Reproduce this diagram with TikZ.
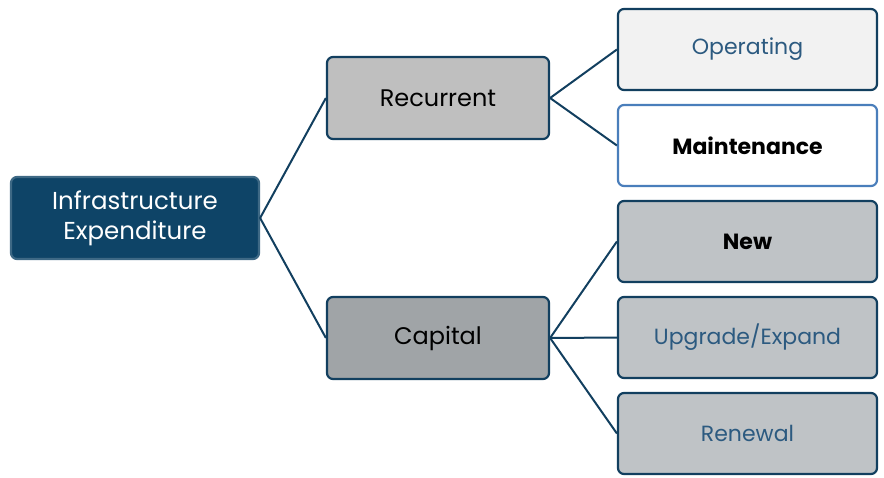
\documentclass[tikz,border=0pt]{standalone}
\usepackage{fontspec}
\setmainfont{Poppins}
\usepackage{xcolor}
\usepackage{tikz}
\usetikzlibrary{calc}

\definecolor{navy}{HTML}{0E4467}
\definecolor{edge}{HTML}{123F5F}
\definecolor{lightedge}{HTML}{4A7EBB}
\definecolor{bluetext}{HTML}{2C5A80}

\begin{document}
\begin{tikzpicture}[x=1pt, y=-1pt,
      box/.style={draw=edge, line width=2.2pt, rounded corners=6pt,
        minimum height=82pt, align=center, font=\fontsize{22}{27}\selectfont},
      root/.style={box, draw=navy!80, fill=navy, text=white,
        minimum width=248pt, font=\fontsize{24.5}{30}\selectfont},
      mid/.style={box, minimum width=222pt, font=\fontsize{24}{29}\selectfont},
      leaf/.style={box, minimum width=259pt, minimum height=81pt},
      link/.style={draw=edge, line width=2pt}]
      \useasboundingbox (0, 0) rectangle (884, 477);
      \node[root] (infra) at (135, 218) {Infrastructure\\Expenditure};
      \node[mid, fill=black!25] (rec) at (438, 98) {Recurrent};
      \node[mid, fill={rgb,255:red,160;green,164;blue,167}] (cap) at (438, 338) {Capital};
      \node[leaf, fill=black!5, text=bluetext] (op) at (747.5, 49.5) {Operating};
      \node[leaf, draw=lightedge, fill=white] (mnt) at (747.5, 145.5) {\bfseries Maintenance};
      \node[leaf, fill={rgb,255:red,191;green,195;blue,198}] (new) at (747.5, 241.5) {\bfseries New};
      \node[leaf, fill={rgb,255:red,191;green,195;blue,198}, text=bluetext] (upg) at (747.5, 337.5) {Upgrade/Expand};
      \node[leaf, fill={rgb,255:red,191;green,195;blue,198}, text=bluetext] (ren) at (747.5, 433.5) {Renewal};
      \draw[link] (infra.east) -- (rec.west);
      \draw[link] (infra.east) -- (cap.west);
      \draw[link] (rec.east) -- (op.west);
      \draw[link] (rec.east) -- (mnt.west);
      \draw[link] (cap.east) -- (new.west);
      \draw[link] (cap.east) -- (upg.west);
      \draw[link] (cap.east) -- (ren.west);
    \end{tikzpicture}
\end{document}
